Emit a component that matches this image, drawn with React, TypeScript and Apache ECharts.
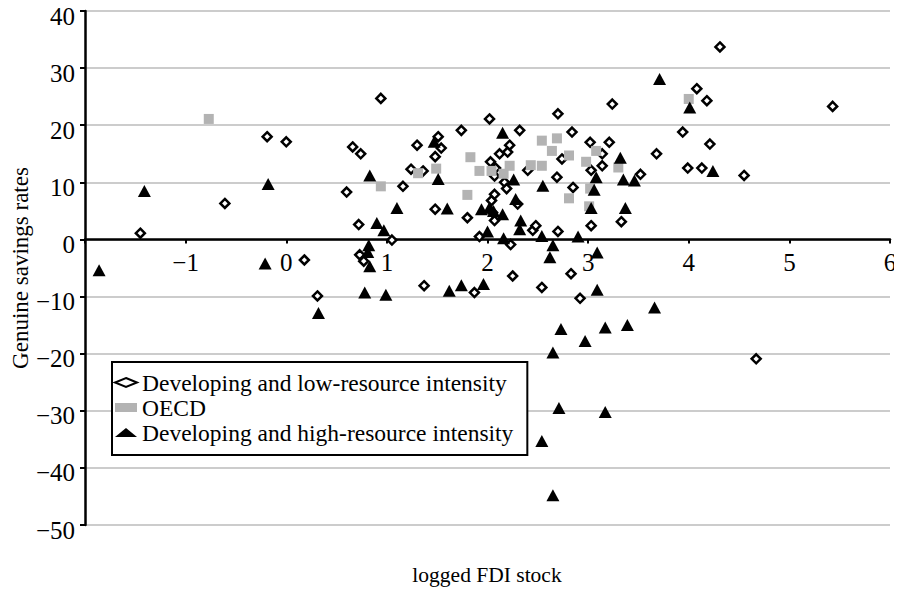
import React, { useEffect, useRef } from "react";
import * as echarts from "echarts";

const seriesNames = [
  "Developing and low-resource intensity",
  "OECD",
  "Developing and high-resource intensity",
];

const xTicks = { min: -2, max: 6, interval: 1 };
const yTicks = { min: -50, max: 40, interval: 10 };

const lowResource: [number, number][] = [
  [-1.45, 1.1], [-0.61, 6.3], [-0.19, 18.0], [0.0, 17.1], [0.18, -3.6],
  [0.31, -9.9], [0.6, 8.3], [0.66, 16.2], [0.74, 15.0], [0.72, 2.6],
  [0.73, -2.7], [0.77, -3.8], [0.94, 24.7], [1.05, -0.1], [1.16, 9.3],
  [1.24, 12.3], [1.36, 12.0], [1.3, 16.5], [1.37, -8.1], [1.48, 5.3],
  [1.48, 14.5], [1.51, 18.0], [1.54, 16.0], [1.74, 19.1], [1.8, 3.8],
  [1.87, -9.3], [1.92, 0.5], [2.02, 21.1], [2.03, 13.6], [2.04, 6.8],
  [2.05, 4.7], [2.07, 3.3], [2.07, 7.9], [2.07, 11.1], [2.08, 12.5],
  [2.12, 15.0], [2.17, 10.0], [2.19, 8.9], [2.2, 15.3], [2.22, 16.5],
  [2.23, -0.9], [2.25, -6.4], [2.3, 6.2], [2.32, 19.1], [2.4, 12.1],
  [2.45, 1.6], [2.48, 2.4], [2.54, -8.4], [2.69, 10.9], [2.7, 1.4],
  [2.7, 22.0], [2.74, 14.1], [2.83, -6.0], [2.84, 18.8], [2.85, 9.1],
  [2.92, -10.3], [3.02, 17.0], [3.03, 12.1], [3.03, 2.4], [3.14, 15.0],
  [3.14, 12.9], [3.21, 17.0], [3.24, 23.7], [3.33, 3.1], [3.52, 11.4],
  [3.68, 15.0], [3.94, 18.8], [3.99, 12.5], [4.08, 26.4], [4.13, 12.5],
  [4.18, 24.3], [4.21, 16.7], [4.31, 33.7], [4.55, 11.2], [4.67, -20.9],
  [5.43, 23.3],
];

const oecd: [number, number][] = [
  [-0.77, 21.1], [0.94, 9.3], [1.31, 11.6], [1.49, 12.4], [1.8, 7.8],
  [1.83, 14.4], [1.92, 12.0], [2.04, 12.0], [2.16, 11.5], [2.22, 12.9],
  [2.43, 13.0], [2.54, 12.9], [2.54, 17.3], [2.64, 15.5], [2.69, 17.7],
  [2.81, 14.7], [2.81, 7.2], [2.98, 13.6], [3.01, 5.8], [3.02, 8.9],
  [3.08, 15.5], [3.3, 12.6], [4.0, 24.6],
];

const highResource: [number, number][] = [
  [-1.86, -5.4], [-1.41, 8.5], [-0.21, -4.2], [-0.18, 9.7], [0.32, -12.9],
  [0.78, -9.3], [0.82, -1.0], [0.81, -2.2], [0.83, -4.7], [0.83, 11.2],
  [0.9, 2.9], [0.97, 1.6], [0.99, -9.7], [1.1, 5.5], [1.47, 17.1],
  [1.51, 10.6], [1.6, 5.4], [1.62, -9.0], [1.74, -8.0], [1.94, 5.3],
  [1.96, -7.8], [2.0, 1.4], [2.02, 5.6], [2.06, 5.0], [2.15, 4.4],
  [2.15, 18.7], [2.16, 0.2], [2.26, 10.5], [2.28, 7.1], [2.32, 1.8],
  [2.33, 3.3], [2.54, -35.3], [2.54, 0.6], [2.55, 9.4], [2.62, -3.1],
  [2.65, -1.0], [2.65, -19.8], [2.65, -44.8], [2.71, -29.5], [2.73, -15.7],
  [2.9, 0.5], [2.97, -17.8], [3.03, 5.5], [3.06, 8.7], [3.08, 10.9],
  [3.09, -2.3], [3.09, -8.8], [3.17, -15.4], [3.17, -30.2], [3.32, 14.3],
  [3.35, 10.5], [3.37, 5.5], [3.39, -15.0], [3.46, 10.3], [3.66, -11.9],
  [3.71, 28.1], [4.01, 23.1], [4.24, 12.0],
];

const yAxisTitle = "Genuine savings rates";
const xAxisTitle = "logged FDI stock";

const FONT = "Liberation Serif";
const fmt = (v: number) => String(v).replace("-", "\u2212");

const CHART_W = 894;
const CHART_H = 581;
const GRID = { left: 77, right: 12, top: 3, bottom: 64 };
// move the x axis (line, ticks, labels) up to y = 0
const plotH = CHART_H - GRID.top - GRID.bottom;
const xAxisOffset = -(plotH * (0 - yTicks.min)) / (yTicks.max - yTicks.min);

export default function App() {
  const ref = useRef<HTMLDivElement>(null);
  useEffect(() => {
    const chart = echarts.init(ref.current!, null, { renderer: "svg" });
    chart.setOption({
      animation: false,
      textStyle: { fontFamily: FONT, color: "#000" },
      grid: { ...GRID, containLabel: false, outerBoundsMode: "none" },
      xAxis: {
        type: "value",
        position: "bottom",
        offset: xAxisOffset,
        min: xTicks.min,
        max: xTicks.max,
        interval: xTicks.interval,
        axisLine: { show: true, onZero: false, lineStyle: { color: "#000", width: 2.5 } },
        axisTick: { show: true, length: 4, lineStyle: { color: "#000", width: 2 } },
        axisLabel: {
          fontFamily: FONT,
          fontSize: 25,
          color: "#000",
          margin: 11,
          formatter: (v: number) => (v === xTicks.min ? "" : fmt(v)),
        },
        splitLine: { show: false },
      },
      yAxis: {
        type: "value",
        min: yTicks.min,
        max: yTicks.max,
        interval: yTicks.interval,
        name: yAxisTitle,
        nameLocation: "middle",
        nameRotate: 90,
        nameGap: 53,
        nameMoveOverlap: false,
        nameTextStyle: { fontFamily: FONT, fontSize: 23, color: "#000" },
        axisLine: { show: true, onZero: false, lineStyle: { color: "#000", width: 2.5 } },
        axisTick: { show: true, length: 5, lineStyle: { color: "#000", width: 2 } },
        axisLabel: {
          fontFamily: FONT,
          fontSize: 25,
          color: "#000",
          margin: 10,
          verticalAlign: "top",
          lineHeight: 10,
          formatter: (v: number) => fmt(v),
        },
        splitLine: { show: true, lineStyle: { color: "#cccccc", width: 2 } },
      },
      legend: {
        orient: "vertical",
        left: 104,
        top: 354,
        padding: [8, 14, 10, 2],
        itemGap: 0,
        itemWidth: 22,
        itemHeight: 9,
        borderColor: "#000",
        borderWidth: 2,
        backgroundColor: "#fff",
        textStyle: { fontFamily: FONT, fontSize: 23.5, color: "#000", lineHeight: 25 },
        data: seriesNames,
      },
      graphic: [
        {
          type: "text",
          x: 479,
          y: 567,
          style: {
            text: xAxisTitle,
            fontFamily: FONT,
            fontSize: 21.5,
            fill: "#000",
            align: "center",
            verticalAlign: "middle",
          },
        },
      ],
      series: [
        {
          name: seriesNames[0],
          type: "scatter",
          data: lowResource,
          symbol: "diamond",
          symbolSize: 9,
          itemStyle: { color: "#fff", borderColor: "#000", borderWidth: 2.5, opacity: 1 },
        },
        {
          name: seriesNames[1],
          type: "scatter",
          data: oecd,
          symbol: "rect",
          symbolSize: 10,
          itemStyle: { color: "#b3b3b3", opacity: 1 },
        },
        {
          name: seriesNames[2],
          type: "scatter",
          data: highResource,
          symbol: "triangle",
          symbolSize: [13, 12],
          itemStyle: { color: "#000", opacity: 1 },
        },
      ],
    });
    return () => chart.dispose();
  }, []);
  return <div ref={ref} style={{ width: CHART_W, height: CHART_H }} />;
}
